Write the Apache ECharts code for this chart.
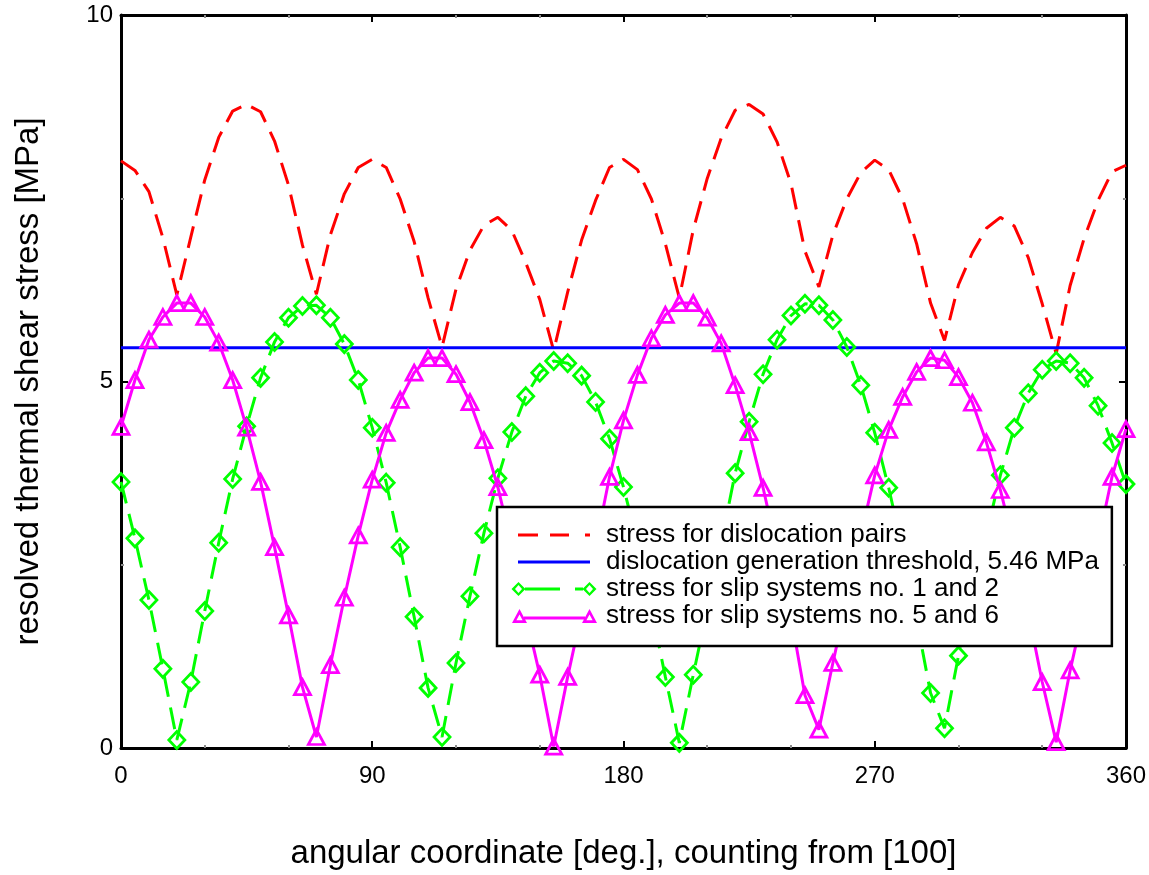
<!DOCTYPE html>
<html>
<head>
<meta charset="utf-8">
<title>resolved thermal shear stress</title>
<script src="https://cdn.jsdelivr.net/npm/echarts@6.0.0/dist/echarts.min.js"></script>
<style>
html, body { margin: 0; padding: 0; background: #fff; }
#lineDiv { width: 1149px; height: 875px; }
</style>
</head>
<body>
<div id="lineDiv"></div>
<script>
// sample angles [deg.]
var angles = [0, 5, 10, 15, 20, 25, 30, 35, 40, 45, 50, 55, 60, 65, 70, 75, 80, 85, 90,
	95, 100, 105, 110, 115, 120, 125, 130, 135, 140, 145, 150, 155, 160, 165, 170, 175, 180,
	185, 190, 195, 200, 205, 210, 215, 220, 225, 230, 235, 240, 245, 250, 255, 260, 265, 270,
	275, 280, 285, 290, 295, 300, 305, 310, 315, 320, 325, 330, 335, 340, 345, 350, 355, 360];

// stress for dislocation pairs [MPa]
var pairsStress = [8.01, 7.88, 7.59, 6.96, 6.18, 6.97, 7.75, 8.33, 8.69, 8.78, 8.68, 8.28, 7.68, 6.86, 6.19, 7.00, 7.56, 7.92, 8.03,
	7.92, 7.49, 6.91, 6.14, 5.47, 6.26, 6.79, 7.13, 7.24, 7.06, 6.62, 6.12, 5.42, 6.22, 6.93, 7.47, 7.92, 8.03,
	7.89, 7.49, 6.88, 6.14, 7.07, 7.77, 8.32, 8.70, 8.78, 8.65, 8.27, 7.70, 6.78, 6.29, 7.00, 7.49, 7.85, 8.02,
	7.89, 7.49, 6.88, 6.07, 5.56, 6.32, 6.76, 7.09, 7.24, 7.12, 6.69, 6.06, 5.38, 6.31, 6.95, 7.47, 7.86, 7.95];

// threshold line
var thresholdX = [0, 360];
var thresholdY = [5.46, 5.46];

// stress for slip systems no. 1 and 2 [MPa]
var slip12 = [3.63, 2.86, 2.02, 1.08, 0.11, 0.90, 1.87, 2.80, 3.67, 4.39, 5.05, 5.54, 5.87, 6.03, 6.04, 5.87, 5.51, 5.02, 4.37,
	3.62, 2.74, 1.79, 0.82, 0.15, 1.16, 2.07, 2.93, 3.68, 4.31, 4.80, 5.12, 5.28, 5.25, 5.08, 4.72, 4.22, 3.56,
	2.80, 1.90, 0.97, 0.07, 1.00, 1.90, 2.80, 3.75, 4.45, 5.10, 5.57, 5.90, 6.06, 6.04, 5.84, 5.47, 4.95, 4.30,
	3.55, 2.70, 1.75, 0.75, 0.27, 1.26, 2.05, 2.92, 3.72, 4.37, 4.84, 5.16, 5.28, 5.25, 5.05, 4.67, 4.16, 3.60];

// stress for slip systems no. 5 and 6 [MPa]
var slip56 = [4.38, 5.02, 5.57, 5.88, 6.07, 6.07, 5.88, 5.53, 5.02, 4.37, 3.63, 2.74, 1.81, 0.83, 0.15, 1.13, 2.05, 2.90, 3.66,
	4.30, 4.75, 5.12, 5.32, 5.32, 5.10, 4.72, 4.20, 3.56, 2.75, 1.82, 1.00, 0.02, 0.97, 1.85, 2.75, 3.70, 4.47,
	5.09, 5.59, 5.91, 6.07, 6.07, 5.87, 5.52, 4.95, 4.31, 3.55, 2.70, 1.80, 0.72, 0.25, 1.16, 2.02, 2.90, 3.72,
	4.34, 4.79, 5.13, 5.32, 5.29, 5.06, 4.71, 4.17, 3.52, 2.75, 1.85, 0.90, 0.08, 1.06, 1.90, 2.80, 3.70, 4.35];

var seriesNames = ['stress for dislocation pairs',
	'dislocation generation threshold, 5.46 MPa',
	'stress for slip systems no. 1 and 2',
	'stress for slip systems no. 5 and 6'];

var FONT = '"Liberation Sans", Arial, sans-serif';

// legend samples drawn like matlab: marker at both ends (86x14 box, corner points pin the scale)
var PIN = 'M0,0L0,0Z M86,14L86,14Z ';
var iconRed = 'path://' + PIN + 'M7,5.5L27,5.5L27,8.5L7,8.5Z M39,5.5L58,5.5L58,8.5L39,8.5Z M74,5.5L79,5.5L79,8.5L74,8.5Z';
var iconBlue = 'path://' + PIN + 'M7,5.5L79,5.5L79,8.5L7,8.5Z';
var iconGreen = 'path://' + PIN +
	'M7.5,0L14.5,7L7.5,14L0.5,7Z M7.5,3L4,7L7.5,11L11,7Z ' +
	'M78.5,0L85.5,7L78.5,14L71.5,7Z M78.5,3L75,7L78.5,11L82,7Z ' +
	'M14,5.5L49,5.5L49,8.5L14,8.5Z M64,5.5L72,5.5L72,8.5L64,8.5Z';
var iconMagenta = 'path://' + PIN +
	'M8.5,0L16,14L1,14Z M8.5,5.6L5.4,11.3L11.6,11.3Z ' +
	'M78.5,0L86,14L71,14Z M78.5,5.6L75.4,11.3L81.6,11.3Z ' +
	'M13,7.5L74,7.5L74,10.5L13,10.5Z';

function zip(xs, ys){
	var out = [];
	for (var i = 0; i < xs.length; i++) {
		out.push([xs[i], ys[i]]);
	}
	return out;
}

// shared axis look (box with inward ticks)
function axisBase(extra){
	var a = {
		type: 'value',
		axisLine: { show: true, onZero: false, lineStyle: { color: '#000', width: 3 } },
		axisTick: { show: true, inside: true, length: 7, lineStyle: { color: '#000', width: 2 } },
		splitLine: { show: false },
		axisLabel: { show: false }
	};
	for (var k in extra) a[k] = extra[k];
	return a;
}

var xMinor = { show: true, splitNumber: 3, length: 3, lineStyle: { color: '#8c8c8c', width: 2 } };
var yMinor = { show: true, splitNumber: 2, length: 3, lineStyle: { color: '#8c8c8c', width: 2 } };

var option = {
	animation: false,
	backgroundColor: '#fff',
	textStyle: { fontFamily: FONT, color: '#000' },
	grid: { left: 121, right: 22, top: 15, bottom: 127, containLabel: false },
	legend: {
		data: [
			{ name: seriesNames[0], icon: iconRed, itemStyle: { color: '#ff0000', borderWidth: 0 } },
			{ name: seriesNames[1], icon: iconBlue, itemStyle: { color: '#0000ff', borderWidth: 0 } },
			{ name: seriesNames[2], icon: iconGreen, itemStyle: { color: '#00ff00', borderWidth: 0 } },
			{ name: seriesNames[3], icon: iconMagenta, itemStyle: { color: '#ff00ff', borderWidth: 0 } }
		],
		orient: 'vertical',
		left: 497,
		top: 507,
		z: 20,
		padding: [15, 13, 17, 14],
		itemGap: 1,
		itemWidth: 86,
		itemHeight: 14,
		itemStyle: { borderWidth: 0 },
		backgroundColor: '#fff',
		borderColor: '#000',
		borderWidth: 2.5,
		borderRadius: 0,
		selectedMode: false,
		textStyle: { fontSize: 26, color: '#000', fontFamily: FONT, padding: [0, 0, 0, 4] }
	},
	xAxis: [
		axisBase({
			position: 'bottom', min: 0, max: 360, interval: 90,
			minorTick: xMinor,
			axisLabel: { show: true, margin: 16, fontSize: 24, color: '#000', fontFamily: FONT },
			name: 'angular coordinate [deg.], counting from [100]',
			nameLocation: 'middle',
			nameGap: 89,
			nameTextStyle: { fontSize: 33, color: '#000', fontFamily: FONT }
		}),
		axisBase({ position: 'top', min: 0, max: 360, interval: 90, minorTick: xMinor })
	],
	yAxis: [
		axisBase({
			position: 'left', min: 0, max: 10, interval: 5,
			minorTick: yMinor,
			axisLabel: { show: true, margin: 8, fontSize: 24, color: '#000', fontFamily: FONT },
			name: 'resolved thermal shear stress [MPa]',
			nameLocation: 'middle',
			nameGap: 76,
			nameTextStyle: { fontSize: 33, color: '#000', fontFamily: FONT }
		}),
		axisBase({ position: 'right', min: 0, max: 10, interval: 5, minorTick: yMinor })
	],
	series: [{
		name: seriesNames[0],
		type: 'line',
		data: zip(angles, pairsStress),
		symbol: 'none',
		lineStyle: { color: '#ff0000', width: 3, type: [22, 11] },
		itemStyle: { color: '#ff0000' },
		z: 2
	}, {
		name: seriesNames[1],
		type: 'line',
		data: zip(thresholdX, thresholdY),
		symbol: 'none',
		lineStyle: { color: '#0000ff', width: 3 },
		itemStyle: { color: '#0000ff' },
		z: 3
	}, {
		name: seriesNames[2],
		type: 'line',
		data: zip(angles, slip12),
		symbol: 'diamond',
		symbolSize: [16, 17],
		showSymbol: true,
		showAllSymbol: true,
		lineStyle: { color: '#00ff00', width: 3, type: [22, 11] },
		itemStyle: { color: 'rgba(255,255,255,0)', borderColor: '#00ff00', borderWidth: 2.8 },
		z: 4
	}, {
		name: seriesNames[3],
		type: 'line',
		data: zip(angles, slip56),
		symbol: 'triangle',
		symbolSize: [16, 15],
		showSymbol: true,
		showAllSymbol: true,
		lineStyle: { color: '#ff00ff', width: 3 },
		itemStyle: { color: 'rgba(255,255,255,0)', borderColor: '#ff00ff', borderWidth: 2.8 },
		z: 5
	}]
};

var myChart = echarts.init(document.getElementById('lineDiv'));
myChart.setOption(option);
</script>
</body>
</html>
